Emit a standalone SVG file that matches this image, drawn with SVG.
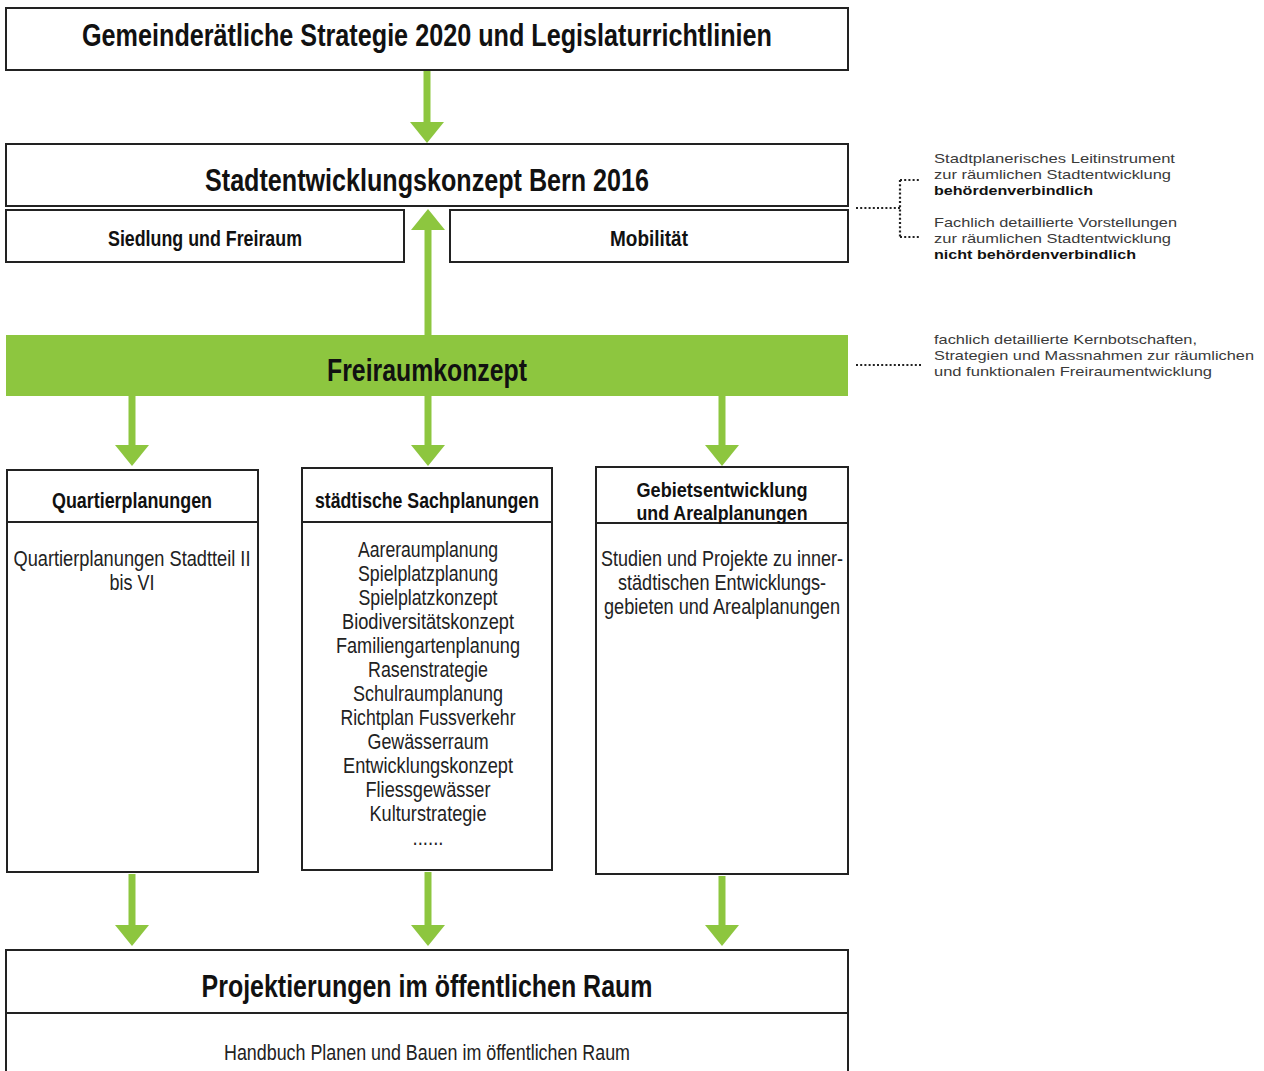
<svg xmlns="http://www.w3.org/2000/svg" width="1264" height="1071" viewBox="0 0 1264 1071">
<defs>
<marker id="head" markerUnits="userSpaceOnUse" markerWidth="21" markerHeight="34" refX="0" refY="17" orient="auto">
<path d="M0,0 L21,17 L0,34 z" fill="#8dc63f"/>
</marker>
<style>
.box{fill:#fff;stroke:#222;stroke-width:2}
.div{stroke:#222;stroke-width:2}
.arr{stroke:#8dc63f;stroke-width:7;fill:none;marker-end:url(#head)}
.dot{stroke:#222;stroke-width:2.2;stroke-dasharray:2 2.2;fill:none}
.t{font-family:"Liberation Sans",Arial,sans-serif;font-weight:bold;fill:#111;text-anchor:middle}
.b{font-family:"Liberation Sans",Arial,sans-serif;fill:#222;text-anchor:middle;font-size:22px}
.n{font-family:"Liberation Sans",Arial,sans-serif;fill:#3a3a3a;font-size:13px}
.nb{font-weight:bold;fill:#111}
</style>
</defs>
<rect width="1264" height="1071" fill="#fff"/>

<g id="connectors">
<path class="arr" d="M427,70 V122"/>
<path class="arr" d="M428,335 V230"/>
<path class="arr" d="M132,396 V445"/>
<path class="arr" d="M428,396 V445"/>
<path class="arr" d="M722,396 V445"/>
<path class="arr" d="M132,874 V925"/>
<path class="arr" d="M428,872 V925"/>
<path class="arr" d="M722,876 V925"/>
<path class="dot" d="M856,208 H900 M900,180 V237 M900,180 H920 M900,237 H920"/>
<path class="dot" d="M856,365 H921"/>
</g>

<g id="strategie">
<rect class="box" x="6" y="8" width="842" height="62"/>
<text class="t" x="427" y="46" font-size="32" textLength="690" lengthAdjust="spacingAndGlyphs">Gemeinderätliche Strategie 2020 und Legislaturrichtlinien</text>
</g>

<g id="stek">
<rect class="box" x="6" y="144" width="842" height="62"/>
<text class="t" x="427" y="191" font-size="32" textLength="444" lengthAdjust="spacingAndGlyphs">Stadtentwicklungskonzept Bern 2016</text>
</g>

<g id="siedlung">
<rect class="box" x="6" y="210" width="398" height="52"/>
<text class="t" x="205" y="246" font-size="22" textLength="194" lengthAdjust="spacingAndGlyphs">Siedlung und Freiraum</text>
</g>

<g id="mobilitaet">
<rect class="box" x="450" y="210" width="398" height="52"/>
<text class="t" x="649" y="246" font-size="22" textLength="78" lengthAdjust="spacingAndGlyphs">Mobilität</text>
</g>

<g id="freiraumkonzept">
<rect x="6" y="335" width="842" height="61" fill="#8dc63f"/>
<text class="t" x="427" y="381" font-size="32" textLength="200" lengthAdjust="spacingAndGlyphs">Freiraumkonzept</text>
</g>

<g id="quartier">
<rect class="box" x="7" y="470" width="251" height="402"/>
<line class="div" x1="7" y1="522" x2="258" y2="522"/>
<text class="t" x="132" y="508" font-size="22" textLength="160" lengthAdjust="spacingAndGlyphs">Quartierplanungen</text>
<text class="b" x="132" y="566" textLength="237" lengthAdjust="spacingAndGlyphs">Quartierplanungen Stadtteil II</text>
<text class="b" x="132" y="590" textLength="45" lengthAdjust="spacingAndGlyphs">bis VI</text>
</g>

<g id="sachplanungen">
<rect class="box" x="302" y="468" width="250" height="402"/>
<line class="div" x1="302" y1="522" x2="552" y2="522"/>
<text class="t" x="427" y="508" font-size="22" textLength="224" lengthAdjust="spacingAndGlyphs">städtische Sachplanungen</text>
<text class="b" x="428" y="557" textLength="140" lengthAdjust="spacingAndGlyphs">Aareraumplanung</text>
<text class="b" x="428" y="581" textLength="140" lengthAdjust="spacingAndGlyphs">Spielplatzplanung</text>
<text class="b" x="428" y="605" textLength="139" lengthAdjust="spacingAndGlyphs">Spielplatzkonzept</text>
<text class="b" x="428" y="629" textLength="172" lengthAdjust="spacingAndGlyphs">Biodiversitätskonzept</text>
<text class="b" x="428" y="653" textLength="184" lengthAdjust="spacingAndGlyphs">Familiengartenplanung</text>
<text class="b" x="428" y="677" textLength="120" lengthAdjust="spacingAndGlyphs">Rasenstrategie</text>
<text class="b" x="428" y="701" textLength="150" lengthAdjust="spacingAndGlyphs">Schulraumplanung</text>
<text class="b" x="428" y="725" textLength="175" lengthAdjust="spacingAndGlyphs">Richtplan Fussverkehr</text>
<text class="b" x="428" y="749" textLength="121" lengthAdjust="spacingAndGlyphs">Gewässerraum</text>
<text class="b" x="428" y="773" textLength="170" lengthAdjust="spacingAndGlyphs">Entwicklungskonzept</text>
<text class="b" x="428" y="797" textLength="125" lengthAdjust="spacingAndGlyphs">Fliessgewässer</text>
<text class="b" x="428" y="821" textLength="117" lengthAdjust="spacingAndGlyphs">Kulturstrategie</text>
<text class="b" x="428" y="845" font-size="14" textLength="31" lengthAdjust="spacingAndGlyphs">......</text>
</g>

<g id="gebiet">
<rect class="box" x="596" y="467" width="252" height="407"/>
<line class="div" x1="596" y1="523" x2="848" y2="523"/>
<text class="t" x="722" y="497" font-size="20" textLength="171" lengthAdjust="spacingAndGlyphs">Gebietsentwicklung</text>
<text class="t" x="722" y="520" font-size="20" textLength="171" lengthAdjust="spacingAndGlyphs">und Arealplanungen</text>
<text class="b" x="722" y="566" textLength="242" lengthAdjust="spacingAndGlyphs">Studien und Projekte zu inner-</text>
<text class="b" x="722" y="590" textLength="208" lengthAdjust="spacingAndGlyphs">städtischen Entwicklungs-</text>
<text class="b" x="722" y="614" textLength="236" lengthAdjust="spacingAndGlyphs">gebieten und Arealplanungen</text>
</g>

<g id="projektierungen">
<rect class="box" x="6" y="950" width="842" height="130"/>
<line class="div" x1="6" y1="1013" x2="848" y2="1013"/>
<text class="t" x="427" y="997" font-size="32" textLength="451" lengthAdjust="spacingAndGlyphs">Projektierungen im öffentlichen Raum</text>
<text class="b" x="427" y="1060" font-size="20" textLength="406" lengthAdjust="spacingAndGlyphs">Handbuch Planen und Bauen im öffentlichen Raum</text>
</g>

<g id="note-stek">
<text class="n" x="934" y="163" textLength="241" lengthAdjust="spacingAndGlyphs">Stadtplanerisches Leitinstrument</text>
<text class="n" x="934" y="179" textLength="237" lengthAdjust="spacingAndGlyphs">zur räumlichen Stadtentwicklung</text>
<text class="n nb" x="934" y="195" textLength="159" lengthAdjust="spacingAndGlyphs">behördenverbindlich</text>
<text class="n" x="934" y="227" textLength="243" lengthAdjust="spacingAndGlyphs">Fachlich detaillierte Vorstellungen</text>
<text class="n" x="934" y="243" textLength="237" lengthAdjust="spacingAndGlyphs">zur räumlichen Stadtentwicklung</text>
<text class="n nb" x="934" y="259" textLength="202" lengthAdjust="spacingAndGlyphs">nicht behördenverbindlich</text>
</g>

<g id="note-freiraum">
<text class="n" x="934" y="344" textLength="263" lengthAdjust="spacingAndGlyphs">fachlich detaillierte Kernbotschaften,</text>
<text class="n" x="934" y="360" textLength="320" lengthAdjust="spacingAndGlyphs">Strategien und Massnahmen zur räumlichen</text>
<text class="n" x="934" y="376" textLength="278" lengthAdjust="spacingAndGlyphs">und funktionalen Freiraumentwicklung</text>
</g>
</svg>
